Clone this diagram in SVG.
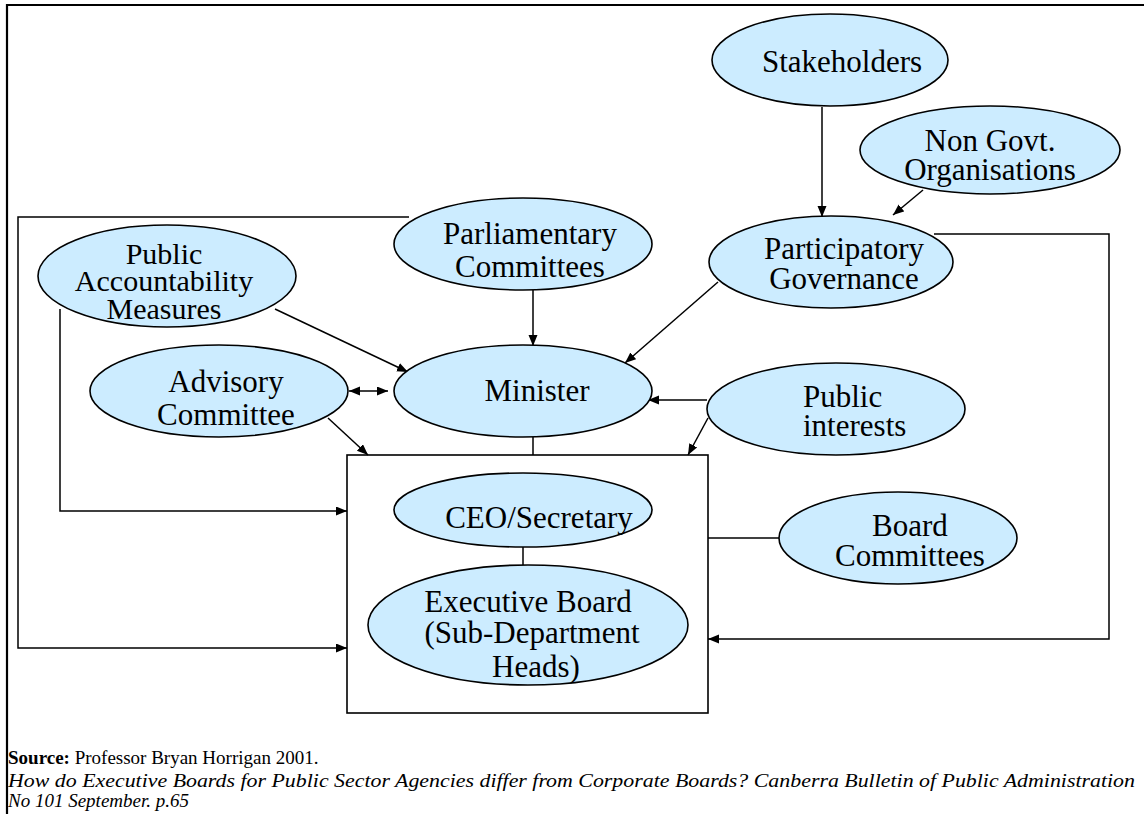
<svg xmlns="http://www.w3.org/2000/svg" width="1144" height="814" viewBox="0 0 1144 814">
<style>
.n ellipse{fill:#CCECFF;stroke:#000;stroke-width:1.6}
.n text{font-family:"Liberation Serif","Times New Roman",serif;font-size:31px;fill:#000;text-anchor:middle}
.c line,.c polyline{stroke:#000;stroke-width:1.5;fill:none}
.a{marker-end:url(#ah)}
.foot{font-family:"Liberation Serif","Times New Roman",serif;font-size:19px;fill:#000}
</style>
<defs>
<marker id="ah" markerUnits="userSpaceOnUse" markerWidth="12" markerHeight="10" refX="11" refY="4.5" orient="auto-start-reverse">
<path d="M0,0 L11,4.5 L0,9 z" fill="#000"/>
</marker>
</defs>
<rect width="1144" height="814" fill="#fff"/>
<g id="frame">
<polyline points="7,814 7,5 1144,5" fill="none" stroke="#000" stroke-width="2.2"/>
</g>
<g id="exec-box">
<rect x="347" y="455" width="361" height="258" fill="#fff" stroke="#000" stroke-width="1.6"/>
</g>
<g class="c" id="connectors">
<line class="a" x1="822" y1="107" x2="822" y2="217"/>
<line class="a" x1="923" y1="190" x2="893" y2="215"/>
<line class="a" x1="718" y1="282" x2="625" y2="363"/>
<line class="a" x1="533" y1="290" x2="533" y2="346"/>
<line class="a" x1="275" y1="309" x2="408" y2="372"/>
<line class="a" x1="388" y1="391" x2="349" y2="391" marker-start="url(#ah)"/>
<line class="a" x1="328" y1="418" x2="368" y2="455"/>
<line x1="533" y1="437" x2="533" y2="455"/>
<line class="a" x1="707" y1="400" x2="648" y2="400"/>
<line class="a" x1="708" y1="418" x2="688" y2="455"/>
<polyline class="a" points="60,309 60,511 347,511"/>
<polyline class="a" points="409,217 18,217 18,648 347,648"/>
<polyline class="a" points="934,234 1109,234 1109,639 708,639"/>
<line x1="708" y1="538" x2="779" y2="538"/>
<line x1="523" y1="547" x2="523" y2="565"/>
</g>
<g class="n" id="stakeholders">
<ellipse cx="830" cy="60" rx="118" ry="46"/>
<text x="842" y="72">Stakeholders</text>
</g>
<g class="n" id="ngo">
<ellipse cx="990" cy="150" rx="130" ry="44"/>
<text x="990" y="151">Non Govt.</text>
<text x="990" y="180">Organisations</text>
</g>
<g class="n" id="participatory">
<ellipse cx="831" cy="262" rx="122" ry="46"/>
<text x="844" y="259">Participatory</text>
<text x="844" y="289">Governance</text>
</g>
<g class="n" id="parliamentary">
<ellipse cx="523" cy="244" rx="129" ry="46"/>
<text x="530" y="244">Parliamentary</text>
<text x="530" y="277">Committees</text>
</g>
<g class="n" id="public-accountability">
<ellipse cx="167" cy="276" rx="129" ry="51"/>
<text x="164" y="264" style="font-size:30px">Public</text>
<text x="164" y="291" style="font-size:30px">Accountability</text>
<text x="164" y="319" style="font-size:30px">Measures</text>
</g>
<g class="n" id="advisory">
<ellipse cx="219" cy="391" rx="129" ry="46"/>
<text x="226" y="392">Advisory</text>
<text x="226" y="425">Committee</text>
</g>
<g class="n" id="minister">
<ellipse cx="523" cy="391" rx="129" ry="46"/>
<text x="537" y="401">Minister</text>
</g>
<g class="n" id="public-interests">
<ellipse cx="836" cy="409" rx="129" ry="46"/>
<text x="803" y="407" style="text-anchor:start">Public</text>
<text x="803" y="436" style="text-anchor:start">interests</text>
</g>
<g class="n" id="board-committees">
<ellipse cx="898" cy="538" rx="119" ry="46"/>
<text x="910" y="536">Board</text>
<text x="910" y="566">Committees</text>
</g>
<g class="n" id="ceo">
<ellipse cx="523" cy="510" rx="129" ry="37"/>
<text x="539" y="528">CEO/Secretary</text>
</g>
<g class="n" id="executive-board">
<ellipse cx="528" cy="625" rx="160" ry="60"/>
<text x="528" y="612">Executive Board</text>
<text x="532" y="643">(Sub-Department</text>
<text x="536" y="677">Heads)</text>
</g>
<g id="source">
<text class="foot" x="8" y="764"><tspan font-weight="bold">Source:</tspan> Professor Bryan Horrigan 2001.</text>
<text class="foot" x="8" y="787" font-style="italic" textLength="1127" lengthAdjust="spacingAndGlyphs">How do Executive Boards for Public Sector Agencies differ from Corporate Boards? Canberra Bulletin of Public Administration</text>
<text class="foot" x="8" y="807" font-style="italic">No 101 September. p.65</text>
</g>
</svg>
